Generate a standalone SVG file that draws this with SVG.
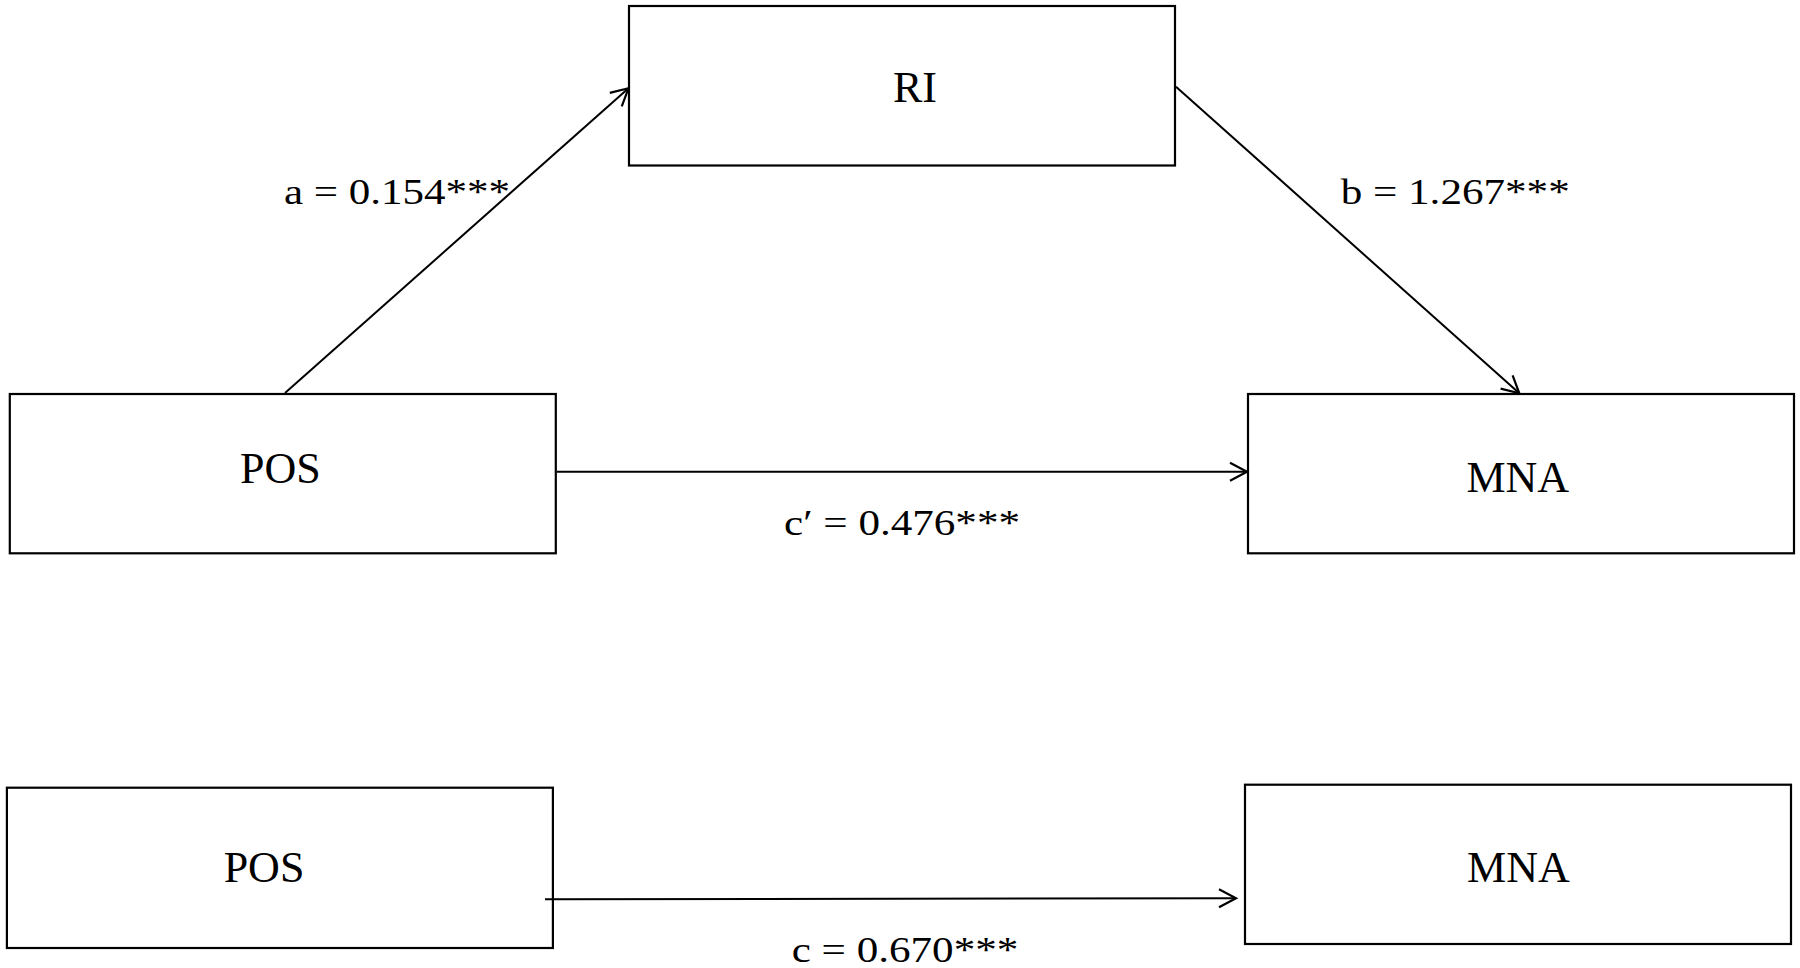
<svg xmlns="http://www.w3.org/2000/svg" width="1800" height="968" viewBox="0 0 1800 968">
<style>
.box{fill:#fff;stroke:#000;stroke-width:2.2}
.node{font-family:"Liberation Serif","Times New Roman",serif;font-size:44px;fill:#000;text-anchor:middle}
.lbl{font-family:"Liberation Serif","Times New Roman",serif;font-size:35px;fill:#000}
.edge{stroke:#000;stroke-width:2;fill:none}
</style>
<defs>
<marker id="arr" markerUnits="userSpaceOnUse" markerWidth="40" markerHeight="40" refX="0" refY="0" orient="auto" overflow="visible">
<path d="M-17,-9 L0,0 L-17,9" fill="none" stroke="#000" stroke-width="2.2"/>
</marker>
</defs>
<rect width="1800" height="968" fill="#fff"/>
<g id="node-RI">
<rect class="box" x="629" y="6" width="546" height="159.5"/>
<text class="node" x="915" y="101.7">RI</text>
</g>
<g id="node-POS1">
<rect class="box" x="9.8" y="394" width="546" height="159.3"/>
<text class="node" x="280.4" y="482.7">POS</text>
</g>
<g id="node-MNA1">
<rect class="box" x="1248" y="394" width="546" height="159.3"/>
<text class="node" x="1517.8" y="492.3">MNA</text>
</g>
<g id="node-POS2">
<rect class="box" x="6.9" y="787.7" width="546" height="160.3"/>
<text class="node" x="264" y="881.7">POS</text>
</g>
<g id="node-MNA2">
<rect class="box" x="1245" y="784.7" width="546" height="159.3"/>
<text class="node" x="1518.4" y="882.3">MNA</text>
</g>
<g id="connectors">
<line class="edge" x1="285" y1="393" x2="628.5" y2="88.3" marker-end="url(#arr)"/>
<line class="edge" x1="1176" y1="86.7" x2="1519.3" y2="393.3" marker-end="url(#arr)"/>
<line class="edge" x1="557" y1="471.7" x2="1247" y2="471.7" marker-end="url(#arr)"/>
<line class="edge" x1="545" y1="899.3" x2="1236" y2="898.3" marker-end="url(#arr)"/>
</g>
<g id="labels">
<text class="lbl" x="284" y="204.3" textLength="226" lengthAdjust="spacingAndGlyphs">a = 0.154***</text>
<text class="lbl" x="1340.7" y="204.3" textLength="229" lengthAdjust="spacingAndGlyphs">b = 1.267***</text>
<text class="lbl" x="784" y="535" textLength="236" lengthAdjust="spacingAndGlyphs">c′ = 0.476***</text>
<text class="lbl" x="791.7" y="961.7" textLength="226.6" lengthAdjust="spacingAndGlyphs">c = 0.670***</text>
</g>
</svg>
